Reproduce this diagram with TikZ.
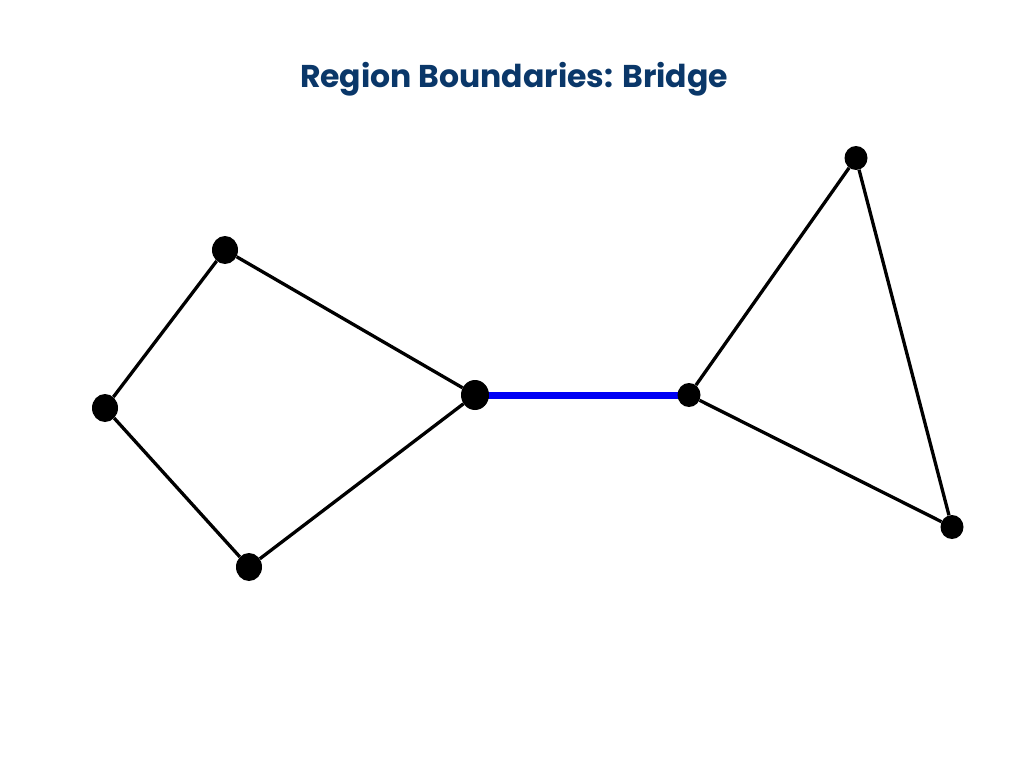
\documentclass[tikz,border=0pt]{standalone}
\usepackage{fontspec}
\setmainfont{Poppins}
\usetikzlibrary{shapes.geometric,backgrounds}
\definecolor{titleblue}{RGB}{10,55,105}
\definecolor{bridgeblue}{RGB}{0,0,245}
\tikzset{
  vertex/.style={ellipse, fill=black, inner sep=0pt, minimum width=26pt, minimum height=28pt},
  smallvertex/.style={vertex, minimum width=23pt, minimum height=24pt},
  edge/.style={line width=3.3pt, black},
  bridge/.style={line width=7pt, bridgeblue}
}

\begin{document}
\begin{tikzpicture}[x=1pt,y=-1pt]
\useasboundingbox (0,0) rectangle (1024,768);
\node[name=title, text=titleblue, font=\fontsize{31.5}{36}\selectfont\bfseries] at (514,79) {Region Boundaries: Bridge};
\node[name=top, vertex] at (225,250) {};
\node[name=left, vertex] at (105,408) {};
\node[name=bottom, vertex] at (249,567) {};
\node[name=hub, vertex, minimum width=28pt, minimum height=30pt] at (475,395) {};
\node[name=joint, smallvertex] at (689,395) {};
\node[name=peak, smallvertex] at (856,158) {};
\node[name=corner, smallvertex] at (952,527) {};
\begin{scope}[on background layer]
\foreach \start/\finish in {top/left,left/bottom,bottom/hub,hub/top,joint/peak,peak/corner,corner/joint}
  \draw [edge] (\start) -- (\finish);
\draw [bridge] (hub.center) -- (joint.center);
\end{scope}
\end{tikzpicture}
\end{document}
